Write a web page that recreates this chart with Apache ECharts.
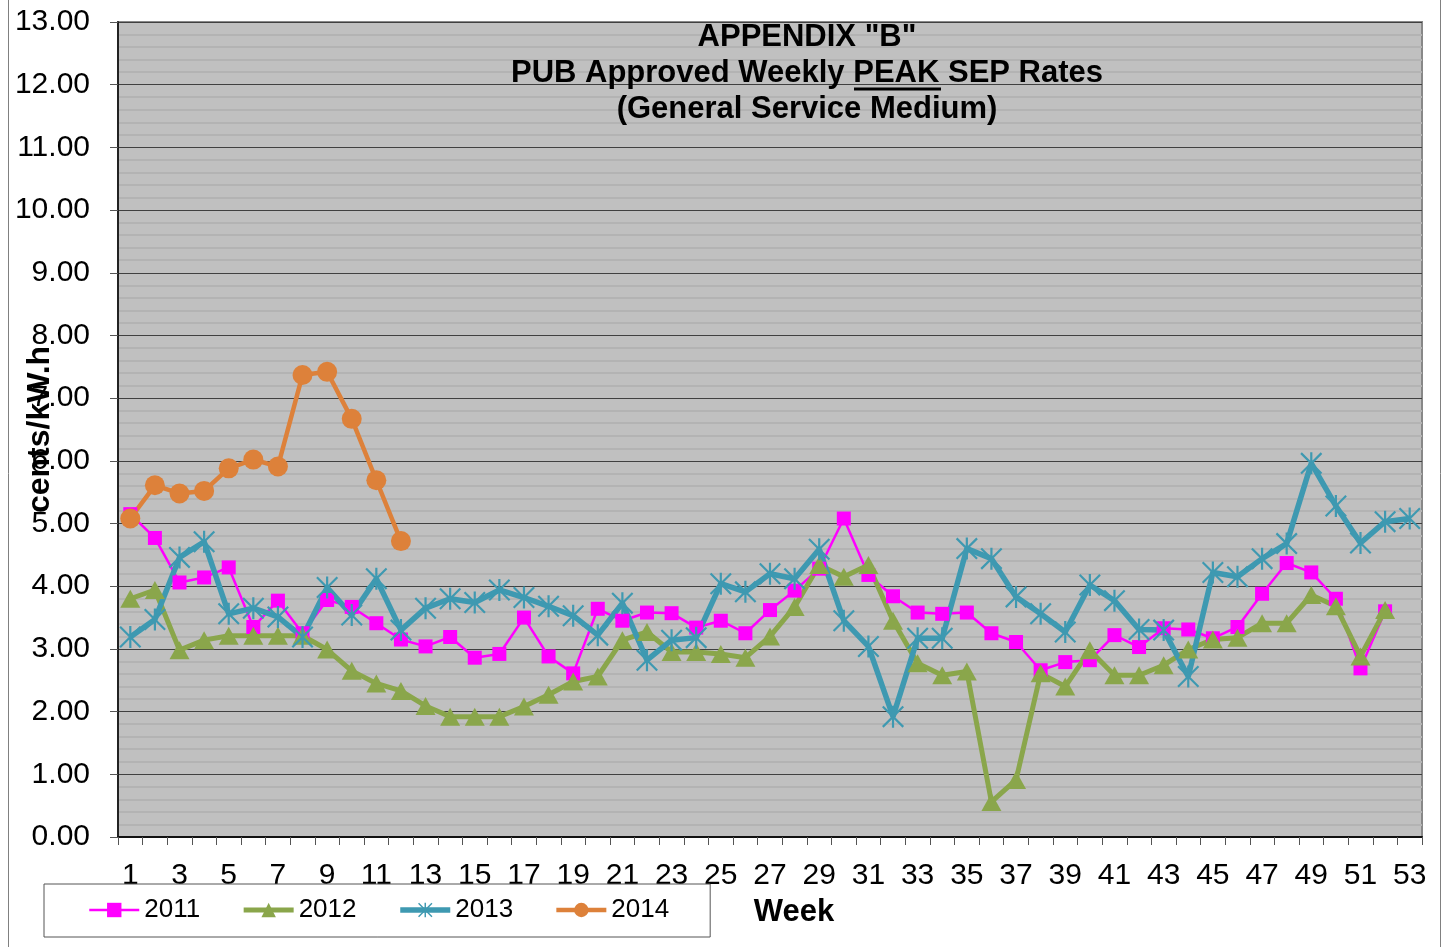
<!DOCTYPE html>
<html>
<head>
<meta charset="utf-8">
<script src="https://cdn.jsdelivr.net/npm/echarts@6/dist/echarts.min.js"></script>
<style>
html,body{margin:0;padding:0;background:#fff;}
#chart{width:1443px;height:947px;}
</style>
</head>
<body>
<div id="chart"></div>
<script>
var weeks = ['1','2','3','4','5','6','7','8','9','10','11','12','13','14','15','16','17','18','19','20','21','22','23','24','25','26','27','28','29','30','31','32','33','34','35','36','37','38','39','40','41','42','43','44','45','46','47','48','49','50','51','52','53'];
var s2011 = [5.15,4.77,4.06,4.14,4.30,3.35,3.77,3.25,3.78,3.67,3.41,3.15,3.04,3.19,2.86,2.92,3.50,2.88,2.61,3.64,3.45,3.58,3.57,3.34,3.45,3.25,3.62,3.93,4.28,5.08,4.18,3.84,3.58,3.56,3.58,3.25,3.11,2.66,2.79,2.82,3.22,3.03,3.33,3.31,3.17,3.35,3.88,4.37,4.22,3.80,2.69,3.60,null];
var s2012 = [3.80,3.94,2.98,3.14,3.21,3.21,3.21,3.21,2.99,2.65,2.45,2.33,2.09,1.92,1.92,1.92,2.08,2.27,2.48,2.56,3.14,3.27,2.95,2.95,2.92,2.86,3.20,3.67,4.34,4.15,4.34,3.45,2.77,2.58,2.64,0.56,0.91,2.61,2.40,2.98,2.58,2.58,2.74,2.99,3.15,3.18,3.41,3.41,3.86,3.68,2.88,3.62,null];
var s2013 = [3.19,3.47,4.46,4.71,3.56,3.65,3.51,3.19,3.98,3.54,4.12,3.30,3.65,3.80,3.74,3.94,3.82,3.68,3.53,3.22,3.73,2.82,3.14,3.18,4.04,3.91,4.20,4.12,4.59,3.45,3.04,1.92,3.17,3.17,4.60,4.44,3.83,3.56,3.27,4.02,3.77,3.31,3.30,2.56,4.22,4.15,4.44,4.68,5.96,5.28,4.69,5.03,5.08];
var s2014 = [5.08,5.61,5.48,5.52,5.88,6.02,5.91,7.37,7.42,6.67,5.69,4.72];
var seriesNames = ['2011','2012','2013','2014'];
var titleLines = ['APPENDIX "B"', 'PUB Approved Weekly ', 'PEAK', ' SEP Rates', '(General Service Medium)'];
var yAxisTitle = 'cents/kW.h';
var xAxisTitle = 'Week';

var FONT = "'Liberation Sans', Arial, sans-serif";
var asterisk = 'path://M9,0 L11,0 L11,20 L9,20 Z M0,1.4 L1.4,0 L20,18.6 L18.6,20 Z M18.6,0 L20,1.4 L1.4,20 L0,18.6 Z';
var colors = ['#ff00ff', '#8aa64b', '#3e99b1', '#dd813a'];
var widths = [2.5, 5, 5.5, 4.5];

var chart = echarts.init(document.getElementById('chart'), null, {renderer: 'canvas'});
var option = {
  backgroundColor: '#ffffff',
  animation: false,
  textStyle: {fontFamily: FONT},
  grid: {left: 118, right: 21, top: 22, bottom: 110, containLabel: false, outerBoundsMode: 'none',
         show: true, backgroundColor: '#c0c0c0', borderColor: '#888888', borderWidth: 2},
  legend: {
    data: seriesNames.map(function (n, i) {
      return {name: n, lineStyle: {width: widths[i], color: colors[i]}, itemStyle: {color: colors[i]}};
    }),
    left: 44, top: 884,
    padding: [13, 41, 14, 44],
    itemGap: 41,
    itemWidth: 50,
    itemHeight: 18,
    backgroundColor: '#ffffff',
    borderColor: '#555555',
    borderWidth: 1,
    borderRadius: 0,
    textStyle: {fontFamily: FONT, fontSize: 26, color: '#000'},
    z: 10
  },
  xAxis: {
    type: 'category',
    data: weeks,
    boundaryGap: true,
    axisLine: {lineStyle: {color: '#111', width: 2}},
    axisTick: {show: true, interval: 0, length: 8, lineStyle: {color: '#555'}},
    axisLabel: {interval: 1, fontSize: 30, color: '#000', margin: 24, fontFamily: FONT},
    splitLine: {show: false}
  },
  yAxis: {
    type: 'value',
    min: 0, max: 13, interval: 1,
    name: yAxisTitle,
    nameLocation: 'middle',
    nameRotate: 90,
    nameGap: 62,
    nameMoveOverlap: false,
    nameTextStyle: {fontSize: 32, fontWeight: 'bold', color: '#000', fontFamily: FONT},
    axisLine: {show: true, lineStyle: {color: '#222', width: 2}},
    axisTick: {show: true, length: 8, lineStyle: {color: '#555'}},
    axisLabel: {fontSize: 30, color: '#000', margin: 28, fontFamily: FONT, formatter: function (v) { return v.toFixed(2); }},
    splitLine: {show: true, lineStyle: {color: '#404040', width: 1}},
    minorTick: {show: false, splitNumber: 5},
    minorSplitLine: {show: true, lineStyle: {color: '#b3b3b3', width: 2}}
  },
  series: [
    {name: seriesNames[0], type: 'line', data: s2011, symbol: 'rect', symbolSize: 14, showAllSymbol: true,
     lineStyle: {color: colors[0], width: widths[0]}, itemStyle: {color: colors[0]}},
    {name: seriesNames[1], type: 'line', data: s2012, symbol: 'triangle', symbolSize: [20, 18], showAllSymbol: true,
     lineStyle: {color: colors[1], width: widths[1]}, itemStyle: {color: colors[1]}},
    {name: seriesNames[2], type: 'line', data: s2013, symbol: asterisk, symbolSize: 22, showAllSymbol: true,
     lineStyle: {color: colors[2], width: widths[2]}, itemStyle: {color: colors[2]}},
    {name: seriesNames[3], type: 'line', data: s2014, symbol: 'circle', symbolSize: 20, showAllSymbol: true,
     lineStyle: {color: colors[3], width: widths[3]}, itemStyle: {color: colors[3]}}
  ],
  graphic: [
    {type: 'rect', shape: {x: 8.5, y: -10, width: 1432, height: 970}, style: {fill: 'none', stroke: '#808080', lineWidth: 1}, z: 100, silent: true},
    {type: 'text', x: 807, y: 19, z: 100,
     style: {
       text: '{a|' + titleLines[0] + '}\n{a|' + titleLines[1] + '}{a|' + titleLines[2] + '}{a|' + titleLines[3] + '}\n{a|' + titleLines[4] + '}',
       align: 'center', verticalAlign: 'top',
       font: 'bold 31px ' + FONT, fill: '#000',
       rich: {a: {font: 'bold 31px ' + FONT, fill: '#000', lineHeight: 36}}
     }},
    {type: 'line', shape: {x1: 854, y1: 89, x2: 941, y2: 89}, style: {stroke: '#000', lineWidth: 3}, z: 100},
    {type: 'text', x: 794, y: 912, z: 100,
     style: {text: xAxisTitle, align: 'center', verticalAlign: 'middle', font: 'bold 31px ' + FONT, fill: '#000'}}
  ]
};
chart.setOption(option);
</script>
</body>
</html>
